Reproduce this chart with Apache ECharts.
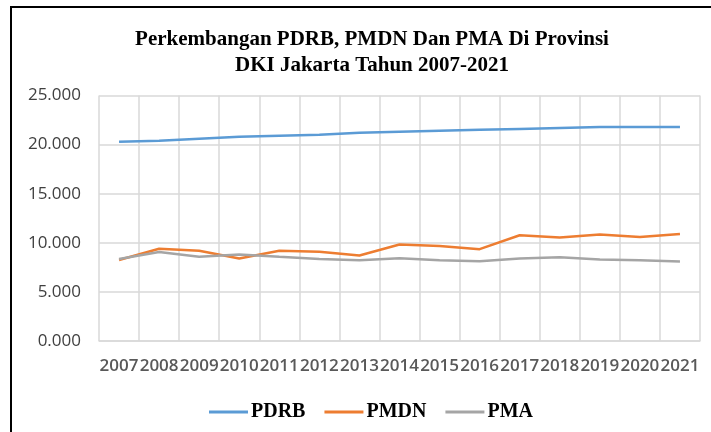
<!DOCTYPE html>
<html>
<head>
<meta charset="utf-8">
<script src="https://cdn.jsdelivr.net/npm/echarts@6/dist/echarts.min.js"></script>
<style>
html,body{margin:0;padding:0;background:#fff;}
#chart{width:711px;height:432px;}
</style>
</head>
<body>
<div id="chart"></div>
<script>
const years = ['2007','2008','2009','2010','2011','2012','2013','2014','2015','2016','2017','2018','2019','2020','2021'];
const pdrb = [20300, 20400, 20600, 20800, 20900, 21000, 21200, 21300, 21400, 21500, 21600, 21700, 21800, 21800, 21800];
const pmdn = [8250, 9400, 9180, 8400, 9180, 9080, 8700, 9830, 9680, 9350, 10770, 10530, 10840, 10600, 10900];
const pma = [8360, 9070, 8570, 8810, 8570, 8360, 8230, 8420, 8230, 8130, 8400, 8530, 8300, 8230, 8100];
const titleLines = ['Perkembangan PDRB, PMDN Dan PMA Di Provinsi', 'DKI Jakarta Tahun 2007-2021'];

const chart = echarts.init(document.getElementById('chart'));
const mkLine = (name, data, color) => ({
  name, type: 'line', data, symbol: 'none', smooth: false,
  lineStyle: { color, width: 2.5 }, itemStyle: { color }
});
chart.setOption({
  animation: false,
  title: {
    text: titleLines.join('\n'),
    left: 367, top: 22, textAlign: 'center',
    textStyle: { fontFamily: 'Liberation Serif', fontWeight: 'bold', fontSize: 21, lineHeight: 26, color: '#000' }
  },
  graphic: [{
    type: 'rect', shape: { x: 11, y: 7, width: 730, height: 450 },
    style: { fill: 'none', stroke: '#000', lineWidth: 2 }, silent: true, z: 100
  }],
  legend: {
    left: 204, top: 397, icon: 'rect', itemWidth: 39, itemHeight: 3, itemGap: 19,
    textStyle: { fontFamily: 'Liberation Serif', fontWeight: 'bold', fontSize: 20, color: '#000', padding: [0, 0, 0, -2] },
    data: ['PDRB', 'PMDN', 'PMA']
  },
  grid: { left: 99, right: 11, top: 95.5, bottom: 91, containLabel: false },
  xAxis: {
    type: 'category', data: years, boundaryGap: true,
    axisLine: { lineStyle: { color: '#d9d9d9', width: 1.5 } },
    axisTick: { show: false },
    splitLine: { show: true, lineStyle: { color: '#d9d9d9', width: 1.5 } },
    axisLabel: { interval: 0, margin: 17, fontFamily: 'Open Sans', fontWeight: 600, fontSize: 17, color: '#595959' }
  },
  yAxis: {
    type: 'value', min: 0, max: 25000, interval: 5000,
    axisLine: { show: false }, axisTick: { show: false },
    splitLine: { lineStyle: { color: '#d9d9d9', width: 1.5 } },
    axisLabel: { margin: 18, fontFamily: 'Open Sans', fontSize: 17, color: '#404040',
      formatter: v => (v / 1000).toFixed(3) }
  },
  series: [
    mkLine('PDRB', pdrb, '#5B9BD5'),
    mkLine('PMDN', pmdn, '#ED7D31'),
    mkLine('PMA', pma, '#A5A5A5')
  ]
});
</script>
</body>
</html>
